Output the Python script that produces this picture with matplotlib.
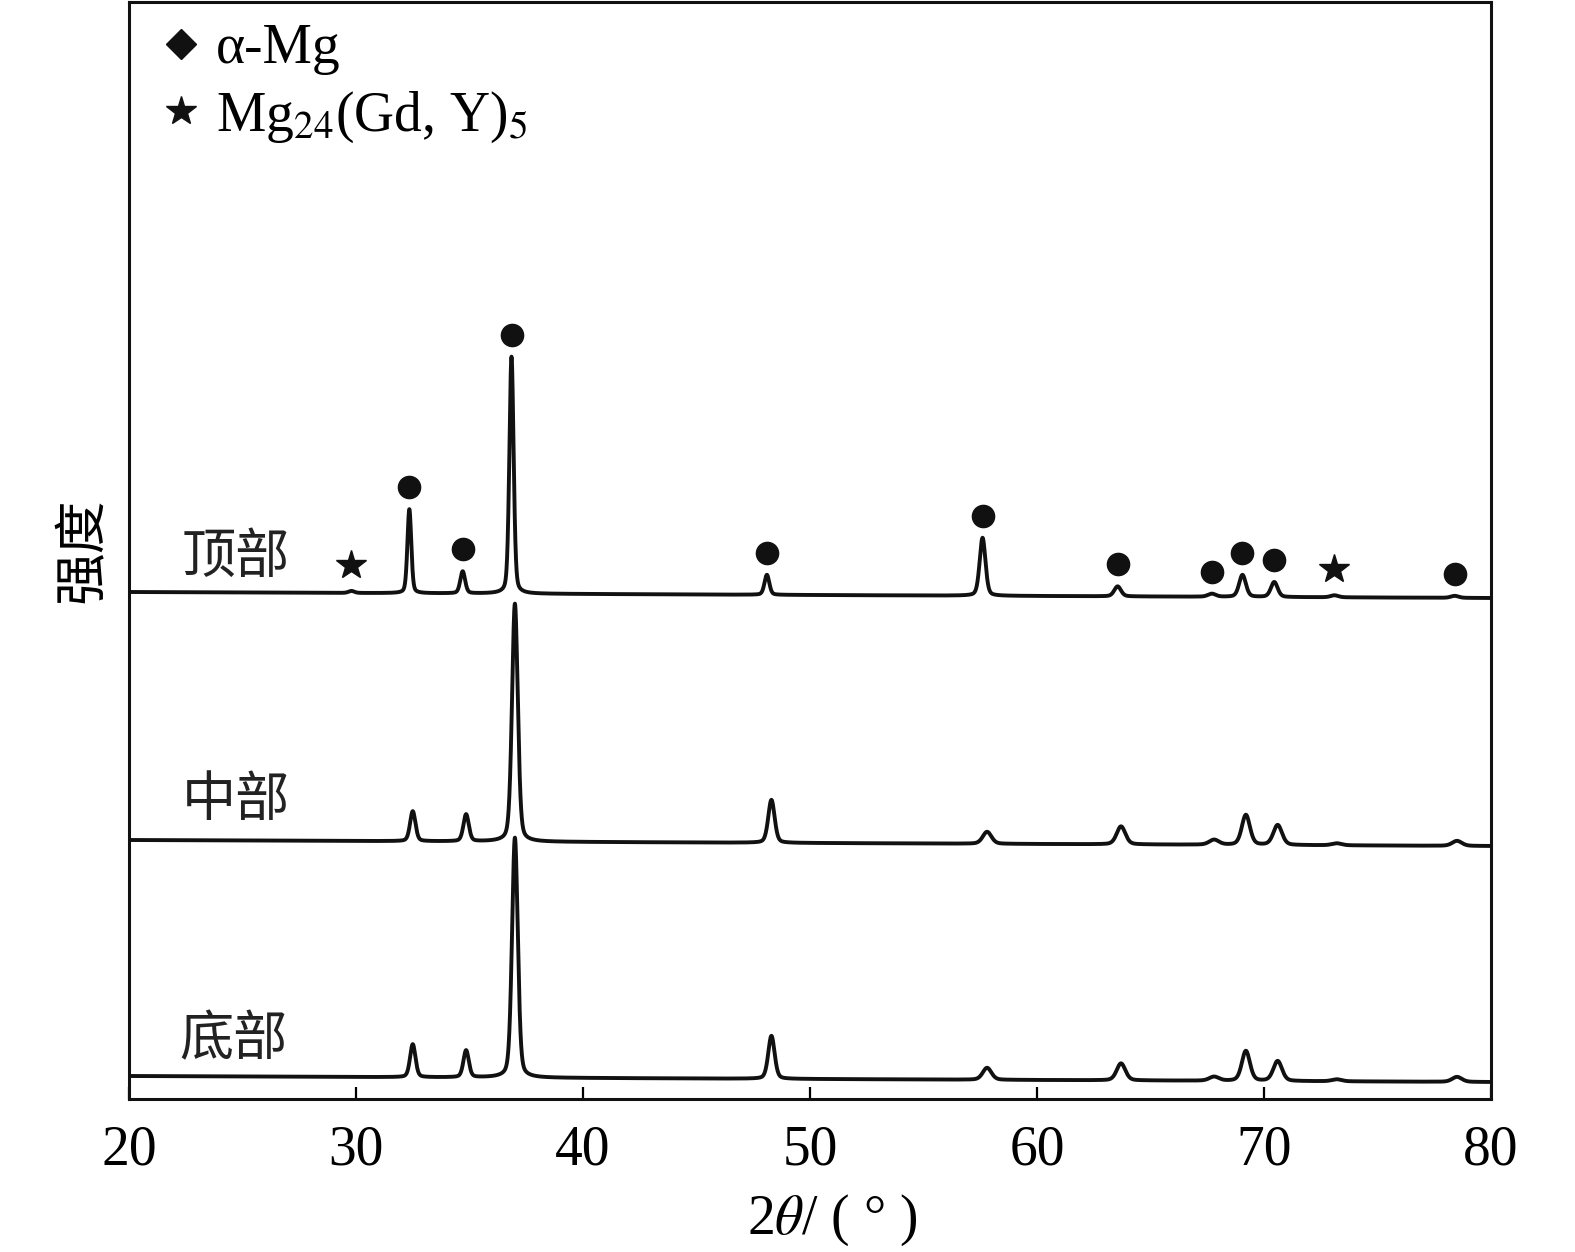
import numpy as np
import matplotlib
matplotlib.use("Agg")
import matplotlib.pyplot as plt
from matplotlib.lines import Line2D

plt.rcParams['font.family'] = ['Liberation Serif', 'Noto Sans CJK SC', 'DejaVu Sans']
plt.rcParams['mathtext.fontset'] = 'stix'

# ---------------- data ----------------
labels = ['顶部', '中部', '底部']

top_pos = [29.8, 32.35, 34.7, 36.85, 48.1, 57.6, 63.55, 67.7, 69.05, 70.45, 73.1, 78.4]
top_hgt = [2, 84, 22, 237, 20, 58, 10, 3, 22, 15, 2, 2]
top_fwhm = [0.3, 0.2, 0.25, 0.22, 0.25, 0.3, 0.35, 0.4, 0.35, 0.35, 0.4, 0.4]
top_phase = ['star', 'circle', 'circle', 'circle', 'circle', 'circle', 'circle', 'circle',
             'circle', 'circle', 'star', 'circle']

mid_pos = [32.5, 34.85, 37.0, 48.3, 57.8, 63.7, 67.8, 69.2, 70.6, 73.2, 78.5]
mid_hgt = [30, 27, 238, 43, 12, 18, 5, 30, 20, 2, 5]
mid_fwhm = [0.28, 0.28, 0.3, 0.33, 0.45, 0.45, 0.5, 0.42, 0.45, 0.5, 0.5]

bot_pos = [32.5, 34.85, 37.0, 48.3, 57.8, 63.7, 67.8, 69.2, 70.6, 73.2, 78.5]
bot_hgt = [33, 27, 240, 43, 12, 17, 4, 30, 20, 2, 5]
bot_fwhm = [0.28, 0.28, 0.3, 0.33, 0.45, 0.45, 0.5, 0.42, 0.45, 0.5, 0.5]

# baseline level at 2theta = 20 and 80 (slightly tilted scan)
base_left = [507, 259, 23]
base_right = [501, 253, 17]

label_pos = [(24.7, 542), (24.7, 299), (24.6, 59)]

legend_labels = ['α-Mg', 'Mg$_{24}$(Gd, Y)$_5$']

xticks = [20, 30, 40, 50, 60, 70, 80]


def pattern(x, pos, hgt, fwhm, b0, b1, eta=0.3):
    y = b0 + (b1 - b0) * (x - 20) / 60.0
    for p, h, w in zip(pos, hgt, fwhm):
        s = w / 2.3548
        g = np.exp(-0.5 * ((x - p) / s) ** 2)
        lo = 1.0 / (1 + ((x - p) / (w / 2)) ** 2)
        y = y + h * ((1 - eta) * g + eta * lo)
    return y


fig = plt.figure(figsize=(15.75, 12.52), dpi=100)
ax = fig.add_axes([0.0819, 0.1222, 0.9467 - 0.0819, 0.9984 - 0.1222])

x = np.linspace(20, 80, 12001)
sets = [(top_pos, top_hgt, top_fwhm), (mid_pos, mid_hgt, mid_fwhm), (bot_pos, bot_hgt, bot_fwhm)]
for i, (pos, hgt, fw) in enumerate(sets):
    y = pattern(x, pos, hgt, fw, base_left[i], base_right[i])
    ax.plot(x, y, color='#111111', lw=2.8, solid_joinstyle='round')

# phase markers on top pattern
gap = 22
for p, h, ph in zip(top_pos, top_hgt, top_phase):
    yt = pattern(np.array([p]), top_pos, top_hgt, top_fwhm, base_left[0], base_right[0])[0]
    if ph == 'circle':
        ax.plot(p, yt + gap, 'o', color='#111111', ms=16, zorder=5)
    else:
        ax.plot(p, yt + gap + 4, '*', color='#111111', ms=22, zorder=5)

for lab, (lx, ly) in zip(labels, label_pos):
    ax.text(lx, ly, lab, fontsize=39, ha='center', va='center',
            family=['Noto Sans CJK SC'], color='#222222')

ax.set_xlim(20, 80)
ax.set_ylim(0, 1097)
ax.set_xticks(xticks)
ax.set_yticks([])
ax.tick_params(axis='x', direction='in', length=9, width=1.6, labelsize=40, pad=18)
for sp in ax.spines.values():
    sp.set_linewidth(2.2)
    sp.set_color('#111111')

ax.set_xlabel('2$\\theta$/ ( ° )', fontsize=40, labelpad=6)
ax.xaxis.set_label_coords(0.516, -0.085)
ax.set_ylabel('强度', fontsize=38, family=['Noto Sans CJK SC'], labelpad=14)

handles = [Line2D([], [], marker='D', ls='none', color='#111111', ms=15),
           Line2D([], [], marker='*', ls='none', color='#111111', ms=22)]
ax.legend(handles, legend_labels, loc='upper left', bbox_to_anchor=(0.015, 0.991),
          frameon=False, fontsize=40, handletextpad=0.27, labelspacing=0.26,
          borderaxespad=0.0, borderpad=0.2, handlelength=0.72)

fig.savefig('out.png', dpi=100)
